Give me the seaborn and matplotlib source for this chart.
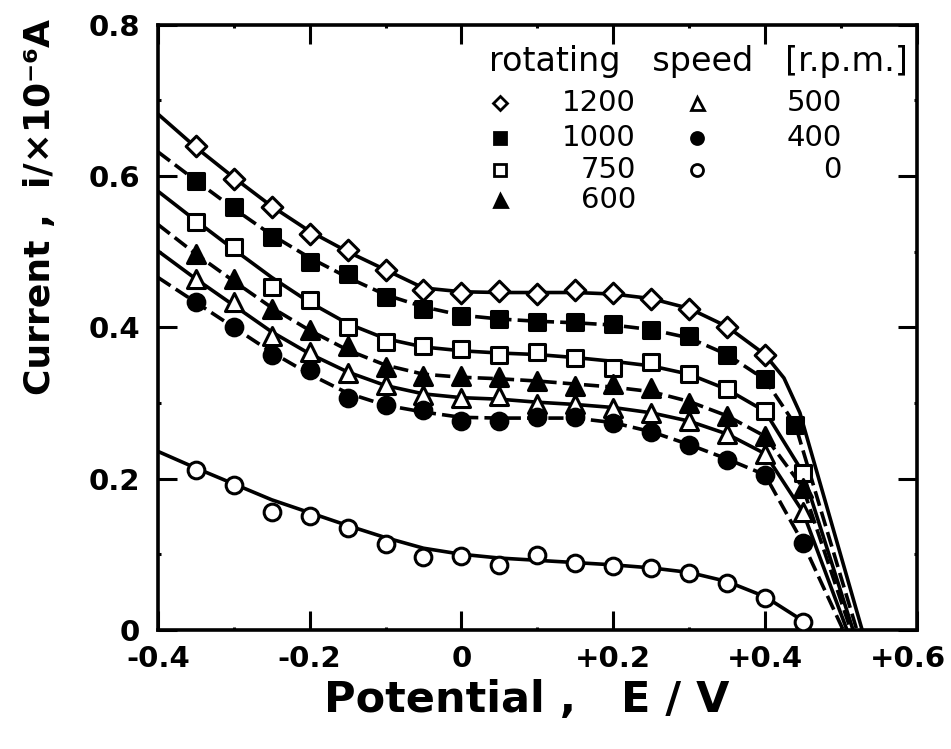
import numpy as np
import pandas as pd
import matplotlib
matplotlib.use("Agg")
import matplotlib.pyplot as plt
from matplotlib.ticker import MultipleLocator
from matplotlib.transforms import ScaledTranslation
import seaborn as sns

# ---------------------------------------------------------------
# data: potential E [V], current i [x1e-6 A]
# ---------------------------------------------------------------
speeds = ["1200", "1000", "750", "600", "500", "400", "0"]

E_pts = [-0.35, -0.30, -0.25, -0.20, -0.15, -0.10, -0.05, 0.00,
         0.05, 0.10, 0.15, 0.20, 0.25, 0.30, 0.35, 0.40, 0.45]
E_pts_1200 = [-0.35, -0.30, -0.25, -0.20, -0.15, -0.10, -0.05, 0.00,
              0.05, 0.10, 0.15, 0.20, 0.25, 0.30, 0.35, 0.40]
E_pts_1000 = [-0.35, -0.30, -0.25, -0.20, -0.15, -0.10, -0.05, 0.00,
              0.05, 0.10, 0.15, 0.20, 0.25, 0.30, 0.35, 0.40, 0.44]

i_1200 = [0.640, 0.596, 0.559, 0.524, 0.502, 0.476, 0.449, 0.446,
          0.448, 0.444, 0.449, 0.446, 0.438, 0.424, 0.400, 0.364]
i_1000 = [0.593, 0.559, 0.519, 0.486, 0.471, 0.440, 0.424, 0.415,
          0.411, 0.407, 0.407, 0.404, 0.397, 0.388, 0.363, 0.332, 0.271]
i_750 = [0.539, 0.506, 0.453, 0.436, 0.401, 0.381, 0.375, 0.371,
         0.364, 0.368, 0.359, 0.346, 0.354, 0.338, 0.318, 0.289, 0.208]
i_600 = [0.497, 0.464, 0.424, 0.397, 0.375, 0.348, 0.335, 0.335,
         0.334, 0.329, 0.322, 0.325, 0.320, 0.300, 0.283, 0.256, 0.188]
i_500 = [0.464, 0.433, 0.389, 0.368, 0.340, 0.324, 0.311, 0.306,
         0.309, 0.298, 0.298, 0.294, 0.287, 0.276, 0.259, 0.233, 0.156]
i_400 = [0.433, 0.400, 0.364, 0.344, 0.307, 0.297, 0.291, 0.276,
         0.276, 0.281, 0.282, 0.274, 0.261, 0.245, 0.224, 0.205, 0.115]
i_0 = [0.212, 0.192, 0.156, 0.150, 0.135, 0.113, 0.097, 0.098,
       0.086, 0.099, 0.089, 0.085, 0.082, 0.075, 0.062, 0.042, 0.011]

# smooth fitted curves (read on a 0.05 V grid) plus their steep tails
curve_E = [-0.40, -0.35, -0.30, -0.25, -0.20, -0.15, -0.10, -0.05, 0.00,
           0.05, 0.10, 0.15, 0.20, 0.25, 0.30, 0.35, 0.40]
curve_1200 = [0.682, 0.638, 0.598, 0.560, 0.527, 0.500, 0.476, 0.452, 0.447,
              0.446, 0.446, 0.446, 0.444, 0.438, 0.425, 0.401, 0.364]
curve_1000 = [0.632, 0.594, 0.557, 0.522, 0.492, 0.466, 0.443, 0.427, 0.416,
              0.411, 0.408, 0.406, 0.403, 0.397, 0.386, 0.364, 0.331]
curve_750 = [0.580, 0.541, 0.503, 0.466, 0.433, 0.405, 0.385, 0.374, 0.369,
             0.366, 0.364, 0.360, 0.355, 0.349, 0.338, 0.318, 0.289]
curve_600 = [0.536, 0.497, 0.461, 0.426, 0.396, 0.370, 0.350, 0.338, 0.334,
             0.332, 0.329, 0.325, 0.321, 0.315, 0.302, 0.283, 0.256]
curve_500 = [0.501, 0.464, 0.429, 0.394, 0.365, 0.341, 0.323, 0.312, 0.307,
             0.305, 0.301, 0.298, 0.294, 0.287, 0.276, 0.259, 0.233]
curve_400 = [0.466, 0.433, 0.400, 0.367, 0.338, 0.313, 0.297, 0.288, 0.281,
             0.280, 0.280, 0.280, 0.274, 0.262, 0.245, 0.226, 0.205]
curve_0 = [0.236, 0.214, 0.193, 0.172, 0.155, 0.138, 0.122, 0.108, 0.100,
           0.095, 0.092, 0.089, 0.086, 0.082, 0.076, 0.064, 0.044]

tail_E_1200, tail_i_1200 = [0.425, 0.446, 0.528], [0.333, 0.287, 0.0]
tail_E_1000, tail_i_1000 = [0.44, 0.521], [0.271, 0.0]
tail_E_750, tail_i_750 = [0.45, 0.516], [0.208, 0.0]
tail_E_600, tail_i_600 = [0.45, 0.513], [0.188, 0.0]
tail_E_500, tail_i_500 = [0.45, 0.508], [0.156, 0.0]
tail_E_400, tail_i_400 = [0.45, 0.503], [0.115, 0.0]
tail_E_0, tail_i_0 = [0.45], [0.012]

pts = {
    "1200": (E_pts_1200, i_1200), "1000": (E_pts_1000, i_1000),
    "750": (E_pts, i_750), "600": (E_pts, i_600), "500": (E_pts, i_500),
    "400": (E_pts, i_400), "0": (E_pts, i_0),
}
curves = {
    "1200": (curve_1200, tail_E_1200, tail_i_1200),
    "1000": (curve_1000, tail_E_1000, tail_i_1000),
    "750": (curve_750, tail_E_750, tail_i_750),
    "600": (curve_600, tail_E_600, tail_i_600),
    "500": (curve_500, tail_E_500, tail_i_500),
    "400": (curve_400, tail_E_400, tail_i_400),
    "0": (curve_0, tail_E_0, tail_i_0),
}

marker_df = pd.concat(
    [pd.DataFrame({"E": e, "i": i, "speed": s}) for s, (e, i) in pts.items()],
    ignore_index=True)
curve_df = pd.concat(
    [pd.DataFrame({"E": curve_E + te, "i": c + ti, "speed": s})
     for s, (c, te, ti) in curves.items()],
    ignore_index=True)

# marker / line style per speed
styles = {
    "1200": ("D", "white", "-", 10.5),
    "1000": ("s", "black", "--", 12),
    "750": ("s", "white", "-", 12),
    "600": ("^", "black", "--", 13),
    "500": ("^", "white", "-", 13),
    "400": ("o", "black", "--", 12),
    "0": ("o", "white", "-", 12),
}
DASH = (0, (4.2, 1.7))

sns.set_style("ticks")
plt.rcParams["font.family"] = ["DejaVu Sans"]
plt.rcParams["text.color"] = "black"
plt.rcParams["axes.labelcolor"] = "black"
plt.rcParams["xtick.color"] = "black"
plt.rcParams["ytick.color"] = "black"

fig = plt.figure(figsize=(9.51, 7.49), dpi=100)
ax = fig.add_axes([0.166, 0.159, 0.798, 0.808])

for s in speeds:
    mk, face, ls, ms = styles[s]
    sub_c = curve_df[curve_df["speed"] == s]
    sns.lineplot(data=sub_c, x="E", y="i", ax=ax, color="black", lw=2.6,
                 linestyle=DASH if ls == "--" else "-", estimator=None,
                 sort=False, legend=False, zorder=2)
    sub_m = marker_df[marker_df["speed"] == s]
    sns.scatterplot(data=sub_m, x="E", y="i", ax=ax, marker=mk, s=ms ** 2,
                    color=face, edgecolor="black", linewidth=2.2,
                    legend=False, zorder=3)

ax.set_xlim(-0.4, 0.6)
ax.set_ylim(0, 0.8)
ax.set_xticks([-0.4, -0.2, 0.0, 0.2, 0.4, 0.6])
ax.set_xticklabels(["-0.4", "-0.2", "0", "+0.2", "+0.4", "+0.6"])
ax.set_yticks([0.0, 0.2, 0.4, 0.6, 0.8])
ax.set_yticklabels(["0", "0.2", "0.4", "0.6", "0.8"])
ax.xaxis.set_minor_locator(MultipleLocator(0.1))
ax.yaxis.set_minor_locator(MultipleLocator(0.1))
ax.tick_params(which="both", direction="in", top=True, right=True,
               width=2.2, color="black")
ax.tick_params(which="major", length=14, labelsize=21)
ax.tick_params(axis="x", which="major", pad=11)
ax.tick_params(axis="y", which="major", pad=13)
for lab in ax.get_xticklabels() + ax.get_yticklabels():
    lab.set_fontweight("bold")
# last x label sits slightly inside the frame edge in the original
last = ax.get_xticklabels()[-1]
last.set_transform(last.get_transform()
                   + ScaledTranslation(-6 / 72, 0, fig.dpi_scale_trans))
for sp in ax.spines.values():
    sp.set_linewidth(2.6)
    sp.set_color("black")
ax.set_xlabel("")
ax.set_ylabel("")

# hand-laid legend block (top right)
ax.text(0.712, 0.939, "rotating   speed   [r.p.m.]", transform=ax.transAxes,
        ha="center", va="center", fontsize=24)
leg_rows = [0.871, 0.813, 0.760, 0.711]
for k, s in enumerate(speeds):
    col, row = divmod(k, 4)
    mk, face, ls, ms = styles[s]
    mx = 0.451 if col == 0 else 0.711
    tx = 0.630 if col == 0 else 0.901
    ax.plot([mx], [leg_rows[row]], transform=ax.transAxes, marker=mk,
            ms=ms * 0.72, mfc=face, mec="black", mew=2.0, ls="none",
            clip_on=False)
    ax.text(tx, leg_rows[row], s, transform=ax.transAxes, ha="right",
            va="center", fontsize=21)

fig.text(0.554, 0.065, "Potential ,   E / V", ha="center", va="center",
         fontsize=31, fontweight="bold")
fig.text(0.042, 0.724, "Current ,  i/×10⁻⁶A", ha="center", va="center",
         rotation=90, fontsize=26, fontweight="bold")

fig.savefig("out.png", dpi=100, facecolor="white")
